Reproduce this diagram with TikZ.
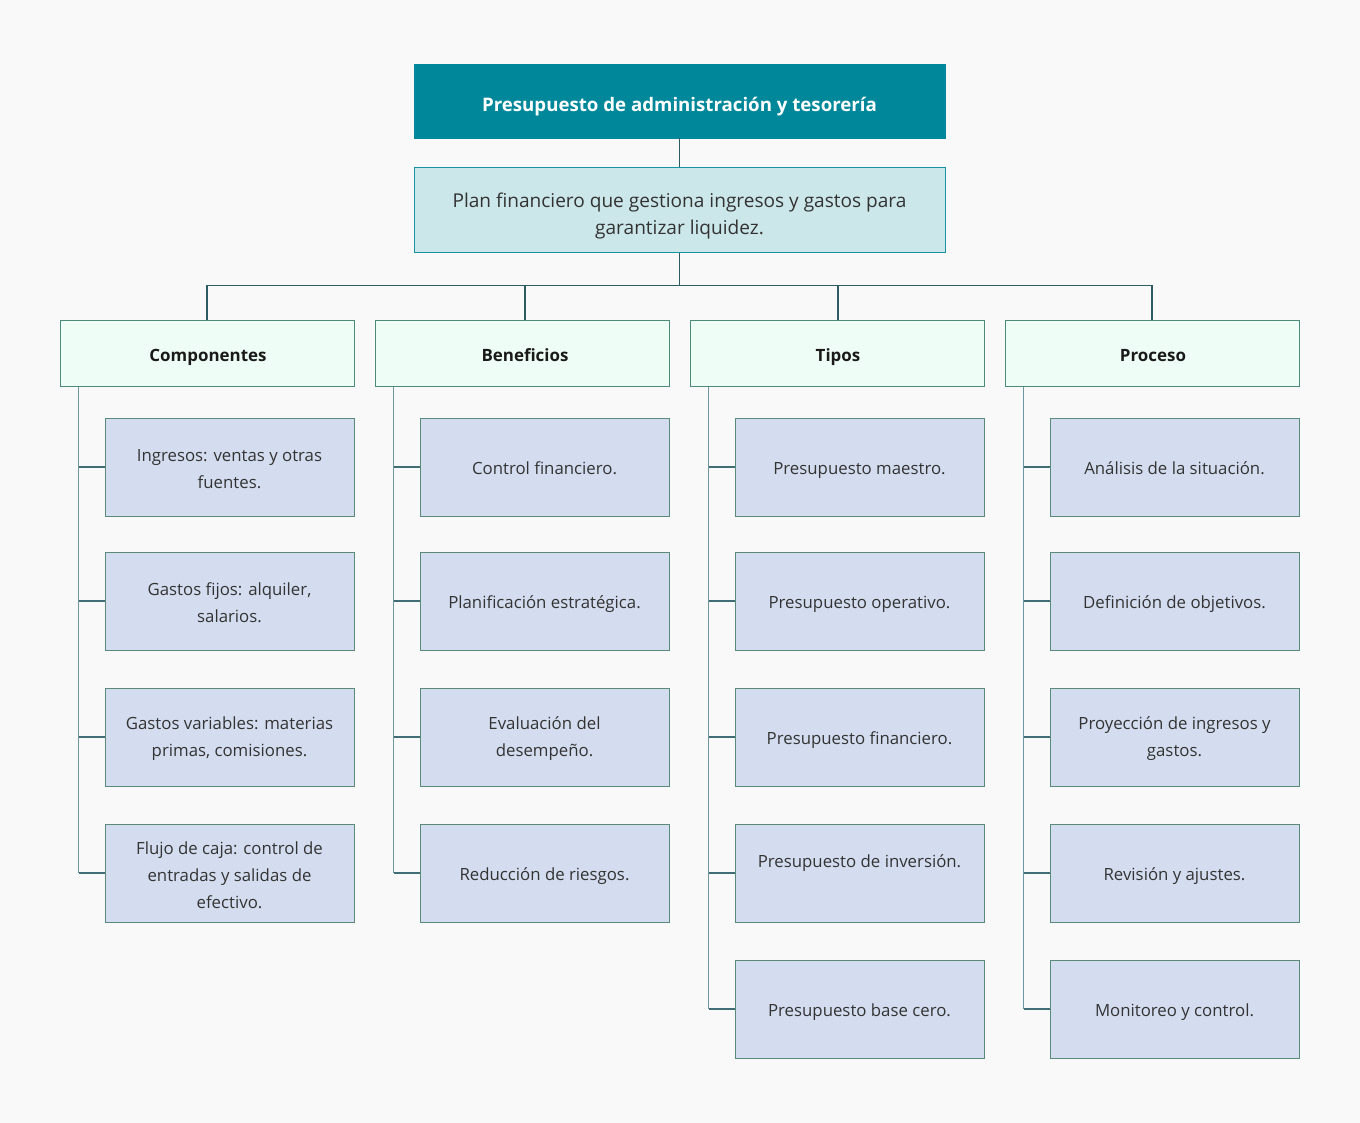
\documentclass[tikz,border=0pt]{standalone}
\usepackage{fontspec}
\setmainfont{Open Sans}
\usetikzlibrary{calc}
\definecolor{bgc}{HTML}{F9F9F9}
\definecolor{titlefill}{HTML}{00889A}
\definecolor{deffill}{HTML}{CCE7EA}
\definecolor{defdraw}{HTML}{1A93A0}
\definecolor{catfill}{HTML}{EEFDF6}
\definecolor{catdraw}{HTML}{4E8A7A}
\definecolor{kidfill}{HTML}{D4DDEF}
\definecolor{kiddraw}{HTML}{5A8A7A}
\definecolor{txt}{HTML}{333333}
\definecolor{bustxt}{HTML}{1A1A1A}
\definecolor{busc}{HTML}{2E5C63}
\definecolor{spinec}{HTML}{6E969E}
\tikzset{
  base/.style={rectangle, inner sep=0pt, align=center, font=\fontsize{12.6}{20.25}\selectfont, text=txt},
  titlebox/.style={base, fill=titlefill, draw=titlefill, minimum width=531*0.75pt, minimum height=74*0.75pt},
  defbox/.style={base, fill=deffill, draw=defdraw, line width=0.75pt, minimum width=531*0.75pt, minimum height=85*0.75pt},
  catbox/.style={base, fill=catfill, draw=catdraw, line width=0.75pt, minimum width=294*0.75pt, minimum height=65*0.75pt},
  kidbox/.style={base, fill=kidfill, draw=kiddraw, line width=0.75pt, minimum width=249*0.75pt, minimum height=98*0.75pt},
  busline/.style={draw=busc, line width=0.9pt},
  spine/.style={draw=spinec, line width=1.2pt},
  branch/.style={draw=busc!70!spinec, line width=0.9pt},
  titlelabel/.style={base, text=white, font=\fontsize{14}{20}\selectfont\bfseries, text height=10pt, text depth=3pt, yshift=-4.4pt},
  deflabel/.style={base, font=\fontsize{14.3}{20.25}\selectfont, yshift=-4pt},
  tlabel/.style={base, text height=10pt, text depth=3pt, yshift=-2pt},
  clabel/.style={base, text=bustxt, font=\fontsize{12.7}{20}\selectfont\bfseries, text height=9.5pt, text depth=3pt, yshift=-2.6pt},
  klabel/.style={base, yshift=-1.5pt},
}
\begin{document}
\begin{tikzpicture}[x=0.75pt, y=-0.75pt]
\fill[bgc] (0,0) rectangle (1360,1123);
\useasboundingbox (0,0) rectangle (1360,1123);

\node[titlebox] (t) at (679.5,101) {};
\node[titlelabel] (tl) at (t) {Presupuesto de administración y tesorería};
\node[defbox] (d) at (679.5,210.5) {};
\node[deflabel] (dl) at (d) {Plan financiero que gestiona ingresos y gastos para\\garantizar liquidez.};

\node[catbox] (c1) at (207,353.5) {};
\node[catbox] (c2) at (522,353.5) {};
\node[catbox] (c3) at (837,353.5) {};
\node[catbox] (c4) at (1152,353.5) {};
\node[clabel] (c1l) at ($(c1)+(1,0)$) {Componentes};
\node[clabel] (c2l) at ($(c2)+(3,0)$) {Beneficios};
\node[clabel] (c3l) at ($(c3)+(1,0)$) {Tipos};
\node[clabel] (c4l) at ($(c4)+(1,0)$) {Proceso};

% Componentes
\node[kidbox] (k11) at (229.5,467) {};
\node[kidbox] (k12) at (229.5,601) {};
\node[kidbox] (k13) at (229.5,737) {};
\node[kidbox] (k14) at (229.5,873) {};
\node[klabel] (k11l) at (k11) {Ingresos: ventas y otras\\fuentes.};
\node[klabel] (k12l) at (k12) {Gastos fijos: alquiler,\\salarios.};
\node[klabel] (k13l) at (k13) {Gastos variables: materias\\primas, comisiones.};
\node[klabel] (k14l) at (k14) {Flujo de caja: control de\\entradas y salidas de\\efectivo.};
% Beneficios
\node[kidbox] (k21) at (544.5,467) {};
\node[kidbox] (k22) at (544.5,601) {};
\node[kidbox] (k23) at (544.5,737) {};
\node[kidbox] (k24) at (544.5,873) {};
\node[tlabel] (k21l) at (k21) {Control financiero.};
\node[tlabel] (k22l) at (k22) {Planificación estratégica.};
\node[klabel] (k23l) at (k23) {Evaluación del\\desempeño.};
\node[tlabel] (k24l) at (k24) {Reducción de riesgos.};
% Tipos
\node[kidbox] (k31) at (859.5,467) {};
\node[kidbox] (k32) at (859.5,601) {};
\node[kidbox] (k33) at (859.5,737) {};
\node[kidbox] (k34) at (859.5,873) {};
\node[kidbox] (k35) at (859.5,1009) {};
\node[tlabel] (k31l) at (k31) {Presupuesto maestro.};
\node[tlabel] (k32l) at (k32) {Presupuesto operativo.};
\node[tlabel] (k33l) at (k33) {Presupuesto financiero.};
\node[tlabel] (k34l) at ($(k34)+(0,-13)$) {Presupuesto de inversión.};
\node[tlabel] (k35l) at (k35) {Presupuesto base cero.};
% Proceso
\node[kidbox] (k41) at (1174.5,467) {};
\node[kidbox] (k42) at (1174.5,601) {};
\node[kidbox] (k43) at (1174.5,737) {};
\node[kidbox] (k44) at (1174.5,873) {};
\node[kidbox] (k45) at (1174.5,1009) {};
\node[tlabel] (k41l) at (k41) {Análisis de la situación.};
\node[tlabel] (k42l) at (k42) {Definición de objetivos.};
\node[klabel] (k43l) at (k43) {Proyección de ingresos y\\gastos.};
\node[tlabel] (k44l) at (k44) {Revisión y ajustes.};
\node[tlabel] (k45l) at (k45) {Monitoreo y control.};

% top connectors
\draw[busline] (t.south) -- (d.north);
\coordinate (bus) at ($(d.south)+(0,32)$);
\draw[busline] (d.south) -- (bus);
\coordinate (p1) at (c1.north);
\coordinate (p2) at ($(c2.north)+(3,0)$);
\coordinate (p3) at ($(c3.north)+(1,0)$);
\coordinate (p4) at (c4.north);
\draw[busline] (p1 |- bus) -- (p4 |- bus);
\foreach \p in {p1,p2,p3,p4} \draw[busline] (\p |- bus) -- (\p);

% spines
\coordinate (s1) at ($(c1.south west)+(19,0)$);
\coordinate (s2) at ($(c2.south west)+(19,0)$);
\coordinate (s3) at ($(c3.south west)+(19,0)$);
\coordinate (s4) at ($(c4.south west)+(19,0)$);
\draw[spine] (s1) -- (s1 |- k14.west);
\draw[spine] (s2) -- (s2 |- k24.west);
\draw[spine] (s3) -- (s3 |- k35.west);
\draw[spine] (s4) -- (s4 |- k45.west);
\foreach \k in {k11,k12,k13,k14} \draw[branch] (s1 |- \k.west) -- (\k.west);
\foreach \k in {k21,k22,k23,k24} \draw[branch] (s2 |- \k.west) -- (\k.west);
\foreach \k in {k31,k32,k33,k34,k35} \draw[branch] (s3 |- \k.west) -- (\k.west);
\foreach \k in {k41,k42,k43,k44,k45} \draw[branch] (s4 |- \k.west) -- (\k.west);
\end{tikzpicture}
\end{document}
